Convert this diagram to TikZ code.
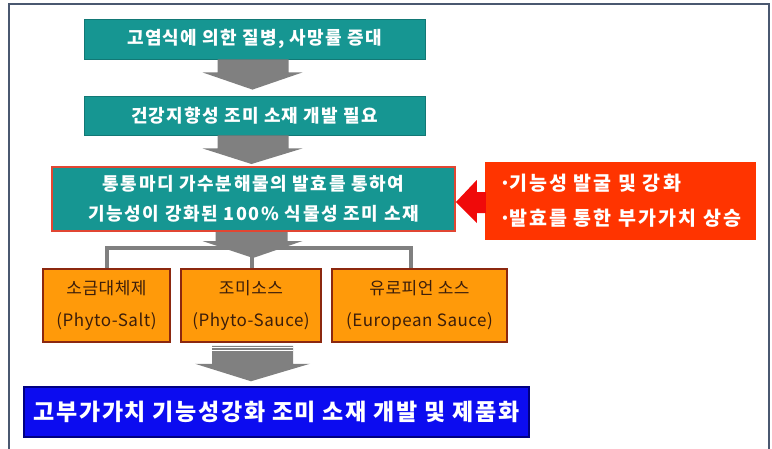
\documentclass[tikz,border=0pt]{standalone}
\usepackage{fontspec}
\newfontfamily\kr{Noto Sans CJK KR}
\newfontfamily\krs{Noto Sans CJK KR}[LetterSpace=7]
\newfontfamily\krb{Noto Sans CJK KR}[LetterSpace=9]
\newfontfamily\krr{Noto Sans CJK KR}[LetterSpace=11]
\newfontfamily\kro{Noto Sans CJK KR}[LetterSpace=3]
\usetikzlibrary{calc}
\definecolor{tealc}{RGB}{22,150,146}
\definecolor{framec}{RGB}{74,88,112}
\definecolor{orangec}{RGB}{255,154,10}
\definecolor{orangeb}{RGB}{140,40,15}
\definecolor{redc}{RGB}{255,52,0}
\definecolor{arrowred}{RGB}{240,10,10}
\definecolor{b3border}{RGB}{225,70,50}
\definecolor{bluec}{RGB}{12,12,240}
\definecolor{blueb}{RGB}{0,0,130}
\definecolor{grayc}{RGB}{128,128,128}
\definecolor{browntext}{RGB}{60,30,10}
\tikzset{
  tealbox/.style={fill=tealc, draw=tealc!80!black, line width=0.8, inner sep=0,
    text=white, font=\krs\bfseries\fontsize{18}{30}\selectfont, align=center},
  orbox/.style={fill=orangec, draw=orangeb, line width=1.5, inner sep=0,
    minimum height=73, text=browntext, font=\kro\fontsize{17}{32}\selectfont, align=center},
  garrow/.style={fill=grayc},
  bracket/.style={draw=grayc, line width=4},
}
\begin{document}
\begin{tikzpicture}[x=1pt,y=-1pt]
\useasboundingbox (0,0) rectangle (772,448);
\fill[white] (0,0) rectangle (772,448);
\draw[framec, line width=2] (9,4) rectangle (769,460);

\node[tealbox, minimum width=341, minimum height=40] (b1) at (254.5,39) {고염식에 의한 질병, 사망률 증대};
\node[tealbox, minimum width=341, minimum height=39] (b2) at (254.5,115.5) {건강지향성 조미 소재 개발 필요};
\node[tealbox, font=\krb\bfseries\fontsize{18}{30}\selectfont, draw=b3border, line width=2,
  minimum width=403, minimum height=64] (b3) at (253.5,199)
  {통통마디 가수분해물의 발효를 통하여\\기능성이 강화된 100\% 식물성 조미 소재};
\node[fill=redc, inner sep=0, minimum width=271, minimum height=78, text=white, align=left,
  font=\krr\bfseries\fontsize{19.5}{35}\selectfont] (red) at (620.5,201)
  {·\kern-2.5pt 기능성 발굴 및 강화\\·\kern-2.5pt 발효를 통한 부가가치 상승};

\node[orbox, minimum width=127] (oA) at (106.5,305.5) {\raisebox{-3pt}{소금대체제}\\\raisebox{-3pt}{(Phyto-Salt)}};
\node[orbox, minimum width=140] (oB) at (251,305.5) {\raisebox{-3pt}{조미소스}\\\raisebox{-3pt}{(Phyto-Sauce)}};
\node[orbox, minimum width=175] (oC) at (419.5,305.5) {\raisebox{-3pt}{유로피언 소스}\\\raisebox{-3pt}{(European Sauce)}};

\node[fill=bluec, draw=blueb, line width=1.5, inner sep=0, minimum width=505, minimum height=50,
  text=white, font=\krs\bfseries\fontsize{23}{28}\selectfont] (blue) at (276.5,412)
  {고부가가치 기능성강화 조미 소재 개발 및 제품화};

% arrow 1
\fill[garrow] ($(b1.south)+(-37,0)$) -- ($(b1.south)+(34,0)$) -- ($(b1.south)+(34,13)$)
  -- ($(b1.south)+(48,13)$) -- ($(b2.north)+(-2,-6)$) -- ($(b1.south)+(-52,13)$)
  -- ($(b1.south)+(-37,13)$) -- cycle;
% arrow 2
\fill[garrow] ($(b2.south)+(-37,0)$) -- ($(b2.south)+(34,0)$) -- ($(b2.south)+(34,13)$)
  -- ($(b2.south)+(48,13)$) -- ($(b3.north)+(-2,-2)$) -- ($(b2.south)+(-52,13)$)
  -- ($(b2.south)+(-37,13)$) -- cycle;
% bracket
\draw[bracket] (oA.north) -- ++(0,-20) -- ($(oC.north)+(-9,-20)$) -- ($(oC.north)+(-9,0)$);
\draw[bracket] ($(oB.north)+(1,0)$) -- ++(0,-20);
% arrow 3
\fill[garrow] ($(b3.south)+(-38,0)$) -- ($(b3.south)+(34,0)$) -- ($(b3.south)+(34,9)$)
  -- ($(b3.south)+(49,9)$) -- ($(b3.south)+(-0.5,26)$) -- ($(b3.south)+(-51,9)$)
  -- ($(b3.south)+(-38,9)$) -- cycle;
% arrow 4
\fill[garrow] ($(oB.south)+(-39,3)$) -- ($(oB.south)+(42,3)$) -- ($(oB.south)+(42,21)$)
  -- ($(oB.south)+(59,21)$) -- ($(blue.north)+(-25.5,-5)$) -- ($(oB.south)+(-56,21)$)
  -- ($(oB.south)+(-39,21)$) -- cycle;
\draw[white, line width=0.8] ($(oB.south)+(-39,5)$) -- ($(oB.south)+(42,5)$);
\draw[white, line width=0.8] ($(oB.south)+(-39,7.5)$) -- ($(oB.south)+(42,7.5)$);
% red arrow
\fill[arrowred] ($(b3.east)+(0,3)$) -- ($(red.west)+(-8,-21)$) -- ($(red.west)+(-8,-9)$)
  -- ($(red.west)+(1,-9)$) -- ($(red.west)+(1,12)$) -- ($(red.west)+(-8,12)$)
  -- ($(red.west)+(-8,22)$) -- cycle;
\end{tikzpicture}
\end{document}
